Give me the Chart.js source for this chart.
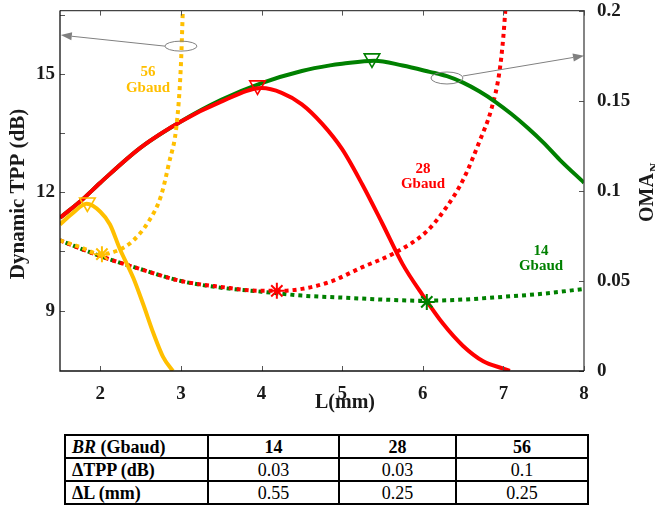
<!DOCTYPE html>
<html>
<head>
<meta charset="utf-8">
<script src="https://cdn.jsdelivr.net/npm/chart.js@4.4.1/dist/chart.umd.min.js"></script>
<style>
  body { margin: 0; background: #fff; width: 655px; height: 506px; position: relative; overflow: hidden; font-family: 'Liberation Serif', 'Times New Roman', serif; }
  #wrap { position: absolute; left: 0; top: 0; width: 655px; height: 420px; }
  table { position: absolute; left: 64px; top: 434px; border-collapse: collapse; table-layout: fixed; font-size: 18px; color: #000; }
  td { border: 2px solid #000; height: 21px; padding: 0; text-align: center; line-height: 20px; white-space: nowrap; }
  td.lab { text-align: left; padding-left: 6px; font-weight: bold; }
  td.head { font-weight: bold; }
</style>
</head>
<body>
<div id="wrap"><canvas id="grafic" width="655" height="420"></canvas></div>
<table id="tabel">
  <colgroup><col style="width:143px"><col style="width:131px"><col style="width:117px"><col style="width:132px"></colgroup>
</table>
<script>
// --- date ---
// L (mm) pe axa x
const xTicks = [2, 3, 4, 5, 6, 7, 8];
const yLeftTicks = [9, 10.5, 12, 13.5, 15, 16.5];
const yLeftLabels = ['9', '', '12', '', '15', ''];
const yRightTicks = [0, 0.05, 0.1, 0.15, 0.2];
const yRightLabels = ['0', '0.05', '0.1', '0.15', '0.2'];

// OMA_N (axa dreapta), linii continue
const lRed = [1.5, 1.785, 2, 2.5, 3, 3.5, 4, 4.25, 4.5, 4.75, 5, 5.25, 5.5, 5.75, 6, 6.25, 6.5, 6.75, 7, 7.08];
const omaRed = [0.085, 0.0955, 0.1045, 0.124, 0.1385, 0.1495, 0.157, 0.1544, 0.148, 0.1373, 0.1231, 0.1035, 0.0817, 0.0593, 0.042, 0.0263, 0.0139, 0.0054, 0.0013, 0];
const lGreen = [1.5, 1.785, 2, 2.5, 3, 3.5, 4, 4.5, 4.85, 5.0, 5.4, 5.75, 6.085, 6.3, 6.5, 6.7, 6.9, 7.1, 7.3, 7.5, 7.7, 8];
const omaGreen = [0.085, 0.0955, 0.1045, 0.124, 0.1385, 0.1505, 0.1598, 0.1665, 0.1696, 0.1705, 0.1722, 0.1695, 0.166, 0.1636, 0.16, 0.1552, 0.1494, 0.1426, 0.135, 0.1266, 0.1172, 0.1045];
const lYellow = [1.5, 1.65, 1.83, 2.0, 2.12, 2.24, 2.41, 2.53, 2.66, 2.78, 2.9];
const omaYellow = [0.0813, 0.0873, 0.0928, 0.0884, 0.0813, 0.068, 0.0516, 0.0373, 0.0208, 0.0077, 0];

// TPP dinamic (dB, axa stanga), linii punctate
const lRedDot = [1.5, 2, 2.5, 3, 3.5, 4, 4.2, 4.5, 4.85, 5.25, 5.65, 6.05, 6.3, 6.5, 6.7, 6.85, 6.95, 7.0, 7.03];
const tppRed = [10.78, 10.38, 10.05, 9.75, 9.6, 9.5, 9.5, 9.55, 9.73, 10.1, 10.46, 11.01, 11.64, 12.31, 13.27, 14.1, 15.03, 15.95, 16.78];
const lGreenDot = [1.5, 2, 2.5, 3, 3.5, 4, 4.5, 5, 5.5, 6, 6.5, 7, 7.5, 8];
const tppGreen = [10.78, 10.38, 10.05, 9.75, 9.58, 9.48, 9.38, 9.33, 9.28, 9.25, 9.28, 9.35, 9.43, 9.55];
const lYellowDot = [1.5, 1.75, 2.0, 2.2, 2.4, 2.6, 2.75, 2.85, 2.95, 3.0, 3.03];
const tppYellow = [10.78, 10.61, 10.43, 10.51, 10.76, 11.26, 11.89, 12.72, 13.77, 15.23, 17.03];

// markeri: triunghiuri = maxim OMA, stele = optim TPP
const triL = [1.84, 3.95, 5.37];
const triOma = [0.0935, 0.1585, 0.1735];
const starL = [2.02, 4.19, 6.05];
const starTpp = [10.43, 9.5, 9.22];

// tabel
const tabelCap = ['14', '28', '56'];
const dTpp = ['0.03', '0.03', '0.1'];
const dL = ['0.55', '0.25', '0.25'];

const RED = '#ff0000';
const GREEN = '#008000';
const YELLOW = '#ffbf00';
const SERIF = "'Liberation Serif', 'Times New Roman', serif";
const pts = (xs, ys) => xs.map((x, i) => ({ x, y: ys[i] }));

function solid(xs, ys, color) {
  return {
    data: pts(xs, ys), yAxisID: 'yR', borderColor: color, borderWidth: 4,
    pointRadius: 0, cubicInterpolationMode: 'monotone', fill: false
  };
}
function dotted(xs, ys, color, offset) {
  return {
    data: pts(xs, ys), yAxisID: 'yL', borderColor: color, borderWidth: 4,
    borderDash: [4, 4], borderDashOffset: offset || 0, borderCapStyle: 'butt',
    pointRadius: 0, cubicInterpolationMode: 'monotone', fill: false
  };
}
function marker(x, y, axis, color, style) {
  return {
    data: [{ x, y }], yAxisID: axis, showLine: false,
    pointStyle: style, pointRadius: style === 'star' ? 8 : 9, pointRotation: style === 'triangle' ? 180 : 0,
    pointBorderColor: color, pointBackgroundColor: 'rgba(0,0,0,0)', pointBorderWidth: style === 'star' ? 2 : 1.6
  };
}

const colors = [YELLOW, RED, GREEN];
const markere = [];
triL.forEach((x, i) => markere.push(marker(x, triOma[i], 'yR', colors[i], 'triangle')));
starL.forEach((x, i) => markere.push(marker(x, starTpp[i], 'yL', colors[i], 'star')));

// primul dataset se deseneaza deasupra
const datasets = [
  ...markere,
  solid(lYellow, omaYellow, YELLOW),
  dotted(lYellowDot, tppYellow, YELLOW),
  solid(lRed, omaRed, RED),
  solid(lGreen, omaGreen, GREEN),
  dotted(lRedDot, tppRed, RED),
  dotted(lGreenDot, tppGreen, GREEN, 2)
];

// rama + tickuri spre interior (stil MATLAB)
const ramaPlugin = {
  id: 'rama',
  afterDraw(chart) {
    const { ctx, chartArea: a, scales } = chart;
    const len = 5;
    ctx.save();
    ctx.strokeStyle = '#555';
    ctx.lineWidth = 1;
    ctx.beginPath();
    xTicks.forEach(v => {
      const p = Math.round(scales.x.getPixelForValue(v)) + 0.5;
      ctx.moveTo(p, a.bottom); ctx.lineTo(p, a.bottom - len);
      ctx.moveTo(p, a.top); ctx.lineTo(p, a.top + len);
    });
    yLeftTicks.forEach(v => {
      const p = Math.round(scales.yL.getPixelForValue(v)) + 0.5;
      ctx.moveTo(a.left, p); ctx.lineTo(a.left + len, p);
    });
    yRightTicks.forEach(v => {
      const p = Math.round(scales.yR.getPixelForValue(v)) + 0.5;
      ctx.moveTo(a.right, p); ctx.lineTo(a.right - len, p);
    });
    ctx.stroke();
    ctx.lineWidth = 1.3;
    ctx.strokeStyle = '#444';
    ctx.beginPath();
    ctx.moveTo(a.left, a.top); ctx.lineTo(a.right, a.top); ctx.lineTo(a.right, a.bottom);
    ctx.stroke();
    ctx.strokeStyle = '#111';
    ctx.beginPath();
    ctx.moveTo(a.left, a.top); ctx.lineTo(a.left, a.bottom); ctx.lineTo(a.right, a.bottom);
    ctx.stroke();

    // titluri axe
    ctx.fillStyle = '#1a1a1a';
    ctx.textAlign = 'center';
    ctx.textBaseline = 'middle';
    ctx.save();
    ctx.font = `bold 21px ${SERIF}`;
    ctx.translate(19, 194);
    ctx.rotate(-Math.PI / 2);
    ctx.fillText('Dynamic TPP (dB)', 0, 0);
    ctx.restore();
    ctx.font = `bold 20px ${SERIF}`;
    ctx.fillText('L(mm)', 345, 403);
    ctx.save();
    ctx.translate(653, 190);
    ctx.rotate(-Math.PI / 2);
    ctx.textAlign = 'left';
    ctx.textBaseline = 'alphabetic';
    ctx.font = `bold 20px ${SERIF}`;
    ctx.fillText('OMA', -32, 0);
    const w = ctx.measureText('OMA').width;
    ctx.font = `bold 13px ${SERIF}`;
    ctx.fillText('N', -32 + w + 1, 5);
    ctx.restore();
    ctx.restore();
  }
};

// elipse + sageti gri si etichetele seriilor
function sageata(ctx, x1, y1, x2, y2) {
  const ang = Math.atan2(y2 - y1, x2 - x1);
  const h = 11, wh = 4;
  ctx.beginPath();
  ctx.moveTo(x1, y1);
  ctx.lineTo(x2 - h * Math.cos(ang), y2 - h * Math.sin(ang));
  ctx.stroke();
  ctx.beginPath();
  ctx.moveTo(x2, y2);
  ctx.lineTo(x2 - h * Math.cos(ang) + wh * Math.sin(ang), y2 - h * Math.sin(ang) - wh * Math.cos(ang));
  ctx.lineTo(x2 - h * Math.cos(ang) - wh * Math.sin(ang), y2 - h * Math.sin(ang) + wh * Math.cos(ang));
  ctx.closePath();
  ctx.fill();
}

const notePlugin = {
  id: 'note',
  afterDatasetsDraw(chart) {
    const { ctx, scales } = chart;
    const X = v => scales.x.getPixelForValue(v);
    ctx.save();
    ctx.strokeStyle = '#808080';
    ctx.fillStyle = '#808080';
    ctx.lineWidth = 1;
    // elipsa pe curba punctata 56 Gbaud -> axa stanga
    const e1x = X(3.0), e1y = scales.yL.getPixelForValue(15.7);
    ctx.beginPath(); ctx.ellipse(e1x, e1y, 16, 5, 0, 0, Math.PI * 2); ctx.stroke();
    sageata(ctx, e1x - 16, e1y, X(1.51), scales.yL.getPixelForValue(15.98));
    // elipsa pe curba continua 14 Gbaud -> axa dreapta
    const e2x = X(6.3), e2y = scales.yR.getPixelForValue(0.1626);
    ctx.beginPath(); ctx.ellipse(e2x, e2y, 16, 6, 0, 0, Math.PI * 2); ctx.stroke();
    sageata(ctx, e2x + 16, e2y - 2, X(8), scales.yR.getPixelForValue(0.175));

    ctx.font = `bold 15px ${SERIF}`;
    ctx.textAlign = 'center';
    ctx.textBaseline = 'middle';
    ctx.fillStyle = YELLOW;
    ctx.fillText('56', 148, 72); ctx.fillText('Gbaud', 148, 88);
    ctx.fillStyle = RED;
    ctx.fillText('28', 423, 169); ctx.fillText('Gbaud', 423, 184);
    ctx.fillStyle = GREEN;
    ctx.fillText('14', 541, 251); ctx.fillText('Gbaud', 541, 266);
    ctx.restore();
  }
};

const tickFont = { family: SERIF, size: 19, weight: 'bold' };
// fara padding automat pentru etichete, ca zona graficului sa fie fixa
const noPad = s => { s.paddingTop = 0; s.paddingBottom = 0; s.paddingLeft = 0; s.paddingRight = 0; };

new Chart(document.getElementById('grafic'), {
  type: 'line',
  data: { datasets },
  options: {
    responsive: false,
    animation: false,
    devicePixelRatio: 1,
    layout: { padding: { top: 7, left: 0, right: 0, bottom: 0 } },
    plugins: { legend: { display: false }, tooltip: { enabled: false } },
    scales: {
      x: {
        type: 'linear', position: 'bottom', min: 1.5, max: 8,
        afterBuildTicks: s => { s.ticks = xTicks.map(v => ({ value: v })); },
        afterFit: s => { s.height = 49; noPad(s); },
        ticks: { font: tickFont, color: '#1a1a1a', padding: 12, autoSkip: false, maxRotation: 0, callback: v => String(v) },
        grid: { display: false, drawTicks: false },
        border: { display: false }
      },
      yL: {
        type: 'linear', position: 'left', min: 7.47, max: 16.6,
        afterBuildTicks: s => { s.ticks = yLeftTicks.map(v => ({ value: v })); },
        afterFit: s => { s.width = 60; noPad(s); },
        ticks: { font: tickFont, color: '#1a1a1a', padding: 5, autoSkip: false, callback: (v, i) => yLeftLabels[i] },
        grid: { display: false, drawTicks: false },
        border: { display: false }
      },
      yR: {
        type: 'linear', position: 'right', min: 0, max: 0.2,
        afterBuildTicks: s => { s.ticks = yRightTicks.map(v => ({ value: v })); },
        afterFit: s => { s.width = 71; noPad(s); },
        ticks: { font: tickFont, color: '#1a1a1a', padding: 13, autoSkip: false, callback: (v, i) => yRightLabels[i] },
        grid: { display: false, drawTicks: false },
        border: { display: false }
      }
    }
  },
  plugins: [notePlugin, ramaPlugin]
});

// tabelul de sub grafic
const tabel = document.getElementById('tabel');
const rand = (cells) => { const tr = document.createElement('tr'); tr.innerHTML = cells; tabel.appendChild(tr); };
rand('<td class="lab"><i>BR</i> (Gbaud)</td>' + tabelCap.map(c => `<td class="head">${c}</td>`).join(''));
rand('<td class="lab">&Delta;TPP (dB)</td>' + dTpp.map(c => `<td>${c}</td>`).join(''));
rand('<td class="lab">&Delta;L (mm)</td>' + dL.map(c => `<td>${c}</td>`).join(''));
</script>
</body>
</html>
